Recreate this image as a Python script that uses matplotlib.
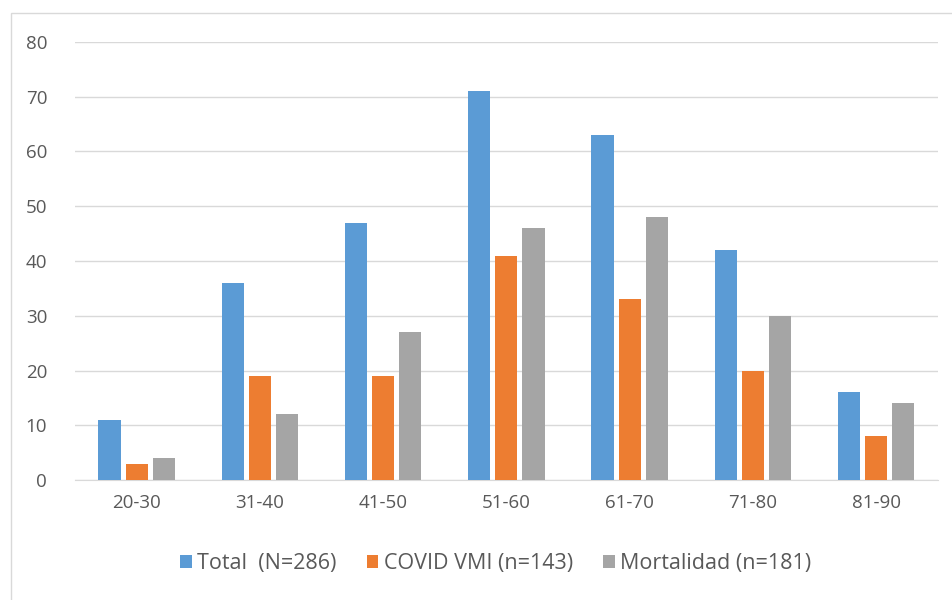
import matplotlib
matplotlib.use("Agg")
import matplotlib.pyplot as plt
import numpy as np
from matplotlib.patches import Rectangle

categories = ["20-30", "31-40", "41-50", "51-60", "61-70", "71-80", "81-90"]
total = [11, 36, 47, 71, 63, 42, 16]
covid = [3, 19, 19, 41, 33, 20, 8]
mortalidad = [4, 12, 27, 46, 48, 30, 14]
series_names = ["Total  (N=286)", "COVID VMI (n=143)", "Mortalidad (n=181)"]
colors = ["#5b9bd5", "#ed7d31", "#a5a5a5"]

plt.rcParams['font.family'] = ['Open Sans', 'DejaVu Sans']
fig = plt.figure(figsize=(9.53, 6.0), dpi=100)
ax = fig.add_axes([0.0787, 0.2, 0.984 - 0.0787, 0.73])

x = np.arange(len(categories))
w = 0.18
offs = [-0.22, 0.0, 0.22]
for vals, off, c, n in zip([total, covid, mortalidad], offs, colors, series_names):
    ax.bar(x + off, vals, width=w, color=c, label=n, zorder=3)

ax.set_xlim(-0.5, len(categories) - 0.5)
ax.set_ylim(0, 80)
ax.set_yticks(range(0, 81, 10))
ax.grid(axis='y', color='#d9d9d9', linewidth=1, zorder=0)
for s in ['top', 'right', 'left']:
    ax.spines[s].set_visible(False)
ax.spines['bottom'].set_color('#d9d9d9')
ax.tick_params(axis='both', length=0, labelsize=13.5, colors='#595959')
ax.tick_params(axis='y', pad=20)
ax.tick_params(axis='x', pad=10)
ax.set_xticks(x)
ax.set_xticklabels(categories)

fig.legend(loc='center', bbox_to_anchor=(0.52, 0.06), ncol=3, frameon=False,
           fontsize=15.5, labelcolor='#595959', handlelength=0.55, handleheight=0.55,
           columnspacing=1.4, handletextpad=0.25)

fig.patches.append(Rectangle((11/953, -0.1), 1.2, 1 - 13/600 + 0.1, transform=fig.transFigure,
                             fill=False, edgecolor='#d9d9d9', linewidth=1))

fig.savefig("out.png", dpi=100)
